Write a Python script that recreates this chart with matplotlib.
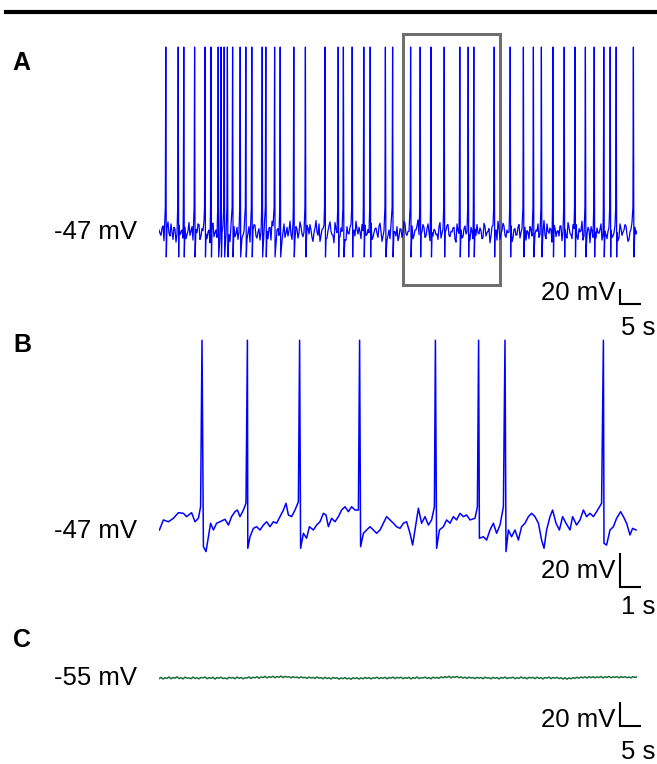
import numpy as np
import matplotlib
matplotlib.use('Agg')
import matplotlib.pyplot as plt
from matplotlib.lines import Line2D
from matplotlib.patches import Rectangle

plt.rcParams['font.family'] = ['Liberation Sans', 'DejaVu Sans']

W, H = 657, 764

# ---- panel A: 2 min recording, -47 mV holding ----
spike_times_A = [1.7, 4.8, 6.2, 8.9, 11.5, 13.0, 14.8, 15.5, 16.3, 17.1, 18.4, 20.3,
                 21.7, 23.2, 25.8, 26.7, 28.9, 30.3, 33.7, 36.6, 41.5, 44.8, 46.1, 48.3,
                 51.2, 52.8, 56.6, 58.4, 62.9, 65.3, 68.0, 71.3, 75.2, 77.3, 78.7, 83.8,
                 87.8, 91.1, 93.6, 95.6, 98.5, 101.3, 104.0, 106.6, 108.8, 111.2, 112.8,
                 114.3, 118.6]
spike_peak_A = 227.0
spike_pre_A = -10.0
spike_trough_A = -84.0
dt_A = 0.5
# samples on the whole half-second
baseline_A = [
    -44, -52, -38, -55, -41, -49, -35, -58, -43, -50, -37, -47, -56, -40, -51, -33, -46, -59, -42, -48,
    -36, -53, -45, -39, -57, -44, -50, -34, -48, -55, -41, -46, -38, -60, -43, -51, -36, -49, -54, -40,
    -47, -33, -52, -45, -58, -39, -50, -44, -37, -56, -42, -48, -35, -53, -46, -41, -59, -38, -49, -44,
    -52, -36, -47, -55, -40, -45, -51, -34, -57, -43, -48, -39, -54, -46, -37, -50, -44, -61, -41, -47,
    -35, -53, -42, -49, -56, -38, -46, -52, -33, -48, -55, -41, -44, -58, -39, -50, -36, -47, -53, -43,
    -40, -57, -45, -37, -51, -48, -34, -55, -42, -49, -38, -46, -53, -41, -59, -44, -36, -50, -47, -39,
    -54, -43, -48, -35, -52, -46, -40, -57, -44, -38, -51, -49, -36, -55, -42, -47, -33, -53, -45, -50,
    -39, -56, -43, -48, -37, -52, -46, -41, -58, -35, -49, -44, -54, -38, -47, -51, -40, -57, -43, -36,
    -50, -45, -55, -39, -48, -42, -53, -37, -46, -59, -41, -49, -34, -52, -44, -47, -38, -56, -42, -51,
    -36, -48, -54, -40, -45, -57, -43, -37, -50, -46, -55, -39, -47, -52, -35, -49, -44, -58, -41, -46,
    -53, -38, -47, -43, -56, -40, -51, -36, -48, -54, -42, -45, -59, -37, -50, -44, -39, -55, -47, -41,
    -49, -35, -52, -46, -57, -40, -44, -53, -38, -48, -55, -42, -47, -36, -51, -58, -43, -49, -40, -46,
]
# samples a quarter second later
baseline_A_mid = [
    -49, -41, -60, -45, -32, -53, -47, -40, -62, -38, -51, -44, -30, -57, -46, -52, -39, -64, -43, -35,
    -58, -42, -31, -50, -47, -63, -37, -54, -44, -29, -56, -48, -41, -52, -34, -61, -45, -39, -50, -58,
    -38, -55, -46, -30, -49, -62, -43, -36, -53, -47, -59, -33, -48, -44, -57, -40, -31, -51, -64, -42,
    -46, -60, -35, -49, -53, -31, -58, -44, -39, -56, -32, -50, -47, -62, -41, -36, -55, -48, -30, -52,
    -61, -43, -37, -57, -45, -32, -51, -63, -42, -38, -54, -46, -33, -59, -49, -40, -56, -44, -31, -50,
    -47, -36, -62, -52, -43, -30, -58, -48, -41, -55, -34, -61, -45, -39, -52, -57, -32, -46, -53, -60,
    -42, -55, -31, -50, -46, -63, -38, -52, -44, -29, -57, -47, -40, -53, -35, -60, -48, -43, -51, -58,
    -33, -49, -61, -44, -36, -54, -47, -40, -62, -45, -31, -56, -42, -50, -37, -59, -46, -33, -52, -48,
    -41, -57, -34, -53, -46, -63, -39, -50, -44, -31, -58, -45, -38, -55, -48, -36, -61, -43, -52, -40,
    -56, -42, -32, -59, -47, -39, -53, -61, -44, -35, -51, -48, -30, -57, -46, -41, -62, -37, -54, -45,
    -38, -60, -44, -52, -33, -49, -57, -42, -36, -58, -47, -31, -53, -50, -40, -63, -45, -34, -56, -48,
    -43, -59, -37, -51, -46, -32, -55, -48, -41, -60, -35, -52, -44, -38, -61, -47, -33, -54, -50, -42,
]
zoom_window = (61.0, 85.25)  # seconds of A shown in B

# ---- panel B: expanded 24 s segment ----
t_B = [0.02, 0.22, 0.47, 0.72, 0.97, 1.22, 1.38, 1.63, 1.80, 1.97, 2.08,
       2.22, 2.35, 2.47, 2.58, 2.72, 2.88, 3.05, 3.30, 3.47, 3.63, 3.80, 3.92, 4.05, 4.22, 4.35,
       4.44, 4.55, 4.72, 4.88, 5.05, 5.22, 5.38, 5.55, 5.72, 5.88, 6.05, 6.22, 6.35, 6.47, 6.63, 6.80, 6.97,
       7.08, 7.22, 7.38, 7.52, 7.72, 7.88, 8.05, 8.22, 8.35, 8.47, 8.63, 8.80, 8.97, 9.13, 9.30, 9.47,
       9.63, 9.80, 9.97,
       10.08, 10.22, 10.38, 10.55, 10.72, 10.88, 11.05, 11.22, 11.38, 11.55, 11.72, 11.88, 12.05,
       12.22, 12.38, 12.55, 12.68, 12.85, 12.97, 13.13, 13.30, 13.47, 13.63, 13.77,
       13.88, 14.02, 14.22, 14.38, 14.55, 14.72, 14.88, 15.05, 15.22, 15.38, 15.55, 15.80, 15.92,
       16.02, 16.22, 16.38, 16.55, 16.72, 16.88, 17.05, 17.22,
       17.35, 17.47, 17.63, 17.80, 17.97, 18.13, 18.30, 18.47, 18.63, 18.80, 18.97, 19.13, 19.25,
       19.38, 19.55, 19.68, 19.85, 20.02, 20.18, 20.35, 20.55, 20.68, 20.88, 21.05, 21.22, 21.38,
       21.55, 21.72, 21.88, 22.13,
       22.25, 22.38, 22.55, 22.72, 22.88, 23.08, 23.22, 23.38, 23.55, 23.68, 23.85]
v_B = [-47.0, -40.9, -42.0, -39.9, -36.5, -36.9, -38.9, -36.5, -42.0, -39.9, -32.9,
       -57.1, -60.1, -51.1, -42.9, -47.0, -42.9, -42.0, -40.5, -44.0, -38.9, -35.9, -34.9, -38.9, -34.9, -30.8,
       -58.1, -51.1, -46.0, -45.0, -47.0, -44.0, -42.0, -45.0, -42.0, -42.9, -38.9, -34.9, -30.8, -37.9, -38.9, -34.9, -29.9,
       -58.1, -49.0, -52.0, -45.0, -47.0, -44.0, -42.0, -36.9, -37.9, -45.0, -39.9, -42.0, -38.9, -34.9, -32.9, -35.9,
       -32.9, -34.9, -34.9,
       -57.1, -49.0, -47.0, -45.0, -47.0, -49.0, -47.0, -42.9, -38.9, -40.9, -42.9, -45.0, -46.0,
       -42.9, -42.0, -49.0, -56.1, -42.9, -33.8, -42.9, -38.9, -44.0, -40.9, -32.9,
       -58.1, -47.0, -45.0, -40.9, -42.9, -38.9, -40.9, -36.9, -38.9, -37.9, -40.9, -39.9, -32.9,
       -52.0, -51.1, -53.1, -47.0, -42.9, -49.0, -44.0, -32.9,
       -60.1, -47.0, -51.1, -47.0, -53.1, -45.0, -42.9, -38.9, -36.9, -38.9, -42.9, -53.1, -58.1,
       -47.0, -38.9, -34.9, -42.9, -47.0, -38.9, -42.9, -47.0, -38.9, -44.0, -40.9, -34.9, -38.9,
       -36.9, -38.9, -35.9, -30.8,
       -55.1, -56.1, -47.0, -45.0, -39.9, -35.9, -38.9, -42.9, -50.0, -46.0, -47.0]
spike_times_B = [2.15, 4.42, 7.03, 10.03, 13.82, 15.98, 17.30, 22.22]
spike_peak_B = 68.0

# ---- panel C: 2 min recording, -55 mV holding ----
dt_C = 0.5
baseline_C = [
    -55.6, -54.4, -55.9, -54.8, -55.3, -54.1, -55.7, -54.6, -55.2, -54.0, -55.5, -54.7, -55.8, -54.3, -55.1, -54.9, -55.6, -54.2, -55.4, -54.8,
    -55.7, -54.5, -55.0, -54.1, -55.6, -54.7, -55.3, -54.4, -55.9, -54.6, -55.2, -54.3, -55.5, -54.9, -55.8, -54.4, -55.1, -54.6, -55.6, -54.2,
    -55.3, -54.5, -55.7, -54.8, -55.0, -54.1, -55.4, -54.3, -54.9, -53.9, -55.2, -54.0, -54.7, -53.6, -54.9, -53.8, -54.5, -53.5, -54.8, -53.7,
    -54.4, -53.3, -54.7, -53.6, -54.2, -53.9, -54.9, -53.8, -54.6, -54.2, -55.1, -54.0, -54.8, -54.4, -55.3, -54.2, -55.0, -54.5, -55.4, -54.1,
    -55.2, -54.6, -55.7, -54.4, -55.5, -54.8, -55.9, -54.5, -55.3, -54.7, -56.0, -54.9, -55.6, -54.6, -55.8, -55.0, -56.1, -54.8, -55.5, -54.7,
    -55.9, -54.9, -55.7, -54.5, -55.4, -54.6, -55.8, -54.8, -55.2, -54.3, -55.6, -54.7, -55.3, -54.4, -55.7, -54.6, -55.1, -54.2, -55.5, -54.5,
    -55.0, -54.3, -55.6, -54.7, -55.2, -54.4, -55.8, -54.6, -55.3, -54.1, -55.5, -54.8, -55.0, -54.2, -55.4, -54.6, -55.7, -54.3, -55.1, -54.5,
    -55.3, -54.0, -54.8, -53.8, -54.6, -53.5, -54.9, -53.9, -54.4, -53.6, -54.8, -54.0, -55.1, -54.3, -55.4, -54.2, -55.0, -54.6, -55.5, -54.4,
    -55.2, -54.5, -55.6, -54.3, -55.1, -54.7, -55.7, -54.4, -55.3, -54.6, -55.8, -54.5, -55.2, -54.2, -55.5, -54.7, -55.0, -54.3, -55.6, -54.8,
    -55.4, -54.1, -55.2, -54.6, -55.7, -54.4, -55.0, -54.5, -55.5, -54.3, -55.3, -54.7, -55.8, -54.6, -55.1, -54.2, -55.6, -54.5, -55.2, -54.4,
    -55.5, -54.7, -55.9, -54.8, -56.0, -54.9, -55.7, -54.6, -55.4, -54.3, -55.2, -54.1, -54.9, -54.0, -55.0, -53.8, -54.7, -53.9, -54.8, -54.0,
    -54.6, -53.7, -54.9, -53.9, -54.5, -53.6, -54.8, -54.0, -54.4, -53.8, -54.9, -53.7, -54.6, -53.9, -54.7, -54.1, -54.9, -53.8, -54.5, -54.0,
]

TRACE_X0, TRACE_X1 = 159, 637
BAR_X = 620
FS = 18.5

fig = plt.figure(figsize=(W / 100, H / 100), dpi=100)


def make_panel(y0, y1, rate, v_ref, y_ref, k):
    # rate: px per second, k: px per mV, v_ref drawn at pixel row y_ref
    ax = fig.add_axes([TRACE_X0 / W, 1 - y1 / H, (TRACE_X1 - TRACE_X0) / W, (y1 - y0) / H])
    ax.set_xlim(0, (TRACE_X1 - TRACE_X0) / rate)
    ax.set_ylim(v_ref - (y1 - y_ref) / k, v_ref + (y_ref - y0) / k)
    ax.axis('off')
    return ax


def scale_bar(ax, rate, v_ref, y_ref, k, y_bot, mv, sec, y_mv_txt, y_s_txt, s_label):
    t0 = (BAR_X - TRACE_X0) / rate
    v0 = v_ref + (y_ref - y_bot) / k
    ax.plot([t0, t0, t0 + sec], [v0 + mv, v0, v0], color='black', lw=1.5,
            clip_on=False, solid_joinstyle='miter')
    fig.text(615 / W, 1 - y_mv_txt / H, f'{mv} mV', ha='right', va='center', fontsize=FS)
    fig.text(655 / W, 1 - y_s_txt / H, s_label, ha='right', va='center', fontsize=FS)


# top rule
fig.add_artist(Line2D([6 / W, 1.0], [1 - 11.5 / H] * 2, color='black', lw=3.0))

# ---- A ----
pA = dict(rate=4.0, v_ref=-47.0, y_ref=232, k=13.5 / 20)
axA = make_panel(20, 320, **pA)
tA = np.concatenate([np.arange(len(baseline_A)) * dt_A,
                     np.arange(len(baseline_A_mid)) * dt_A + dt_A / 2])
vA = np.concatenate([baseline_A, baseline_A_mid])
sp = np.array(spike_times_A)
keep = np.array([np.min(np.abs(sp - t)) > 0.2 for t in tA])
pts = list(zip(tA[keep], vA[keep]))
for ts in spike_times_A:
    pts += [(ts - 0.12, spike_pre_A), (ts, spike_peak_A), (ts + 0.12, spike_trough_A)]
pts.sort()
pts = np.array(pts)
axA.plot(pts[:, 0], pts[:, 1], color='#0000ff', lw=0.9)
vb0 = spike_trough_A - 28 / pA['k']
vb1 = spike_peak_A + 13 / pA['k']
axA.add_patch(Rectangle((zoom_window[0], vb0), zoom_window[1] - zoom_window[0], vb1 - vb0,
                        fill=False, edgecolor='#6e6e6e', lw=2.2, clip_on=False))
scale_bar(axA, **pA, y_bot=304, mv=20, sec=5, y_mv_txt=293, y_s_txt=328, s_label='5 s')
fig.text(12 / W, 1 - 63 / H, 'A', fontsize=18, fontweight='bold', ha='left', va='center')
fig.text(137 / W, 1 - 232 / H, '-47 mV', fontsize=FS, ha='right', va='center')

# ---- B ----
pB = dict(rate=20.0, v_ref=-47.0, y_ref=530, k=33 / 20)
axB = make_panel(325, 600, **pB)
ptsB = list(zip(t_B, v_B)) + [(t, spike_peak_B) for t in spike_times_B]
ptsB.sort()
ptsB = np.array(ptsB)
axB.plot(ptsB[:, 0], ptsB[:, 1], color='#0000ff', lw=1.1)
scale_bar(axB, **pB, y_bot=587, mv=20, sec=1, y_mv_txt=571, y_s_txt=607, s_label='1 s')
fig.text(13 / W, 1 - 345 / H, 'B', fontsize=18, fontweight='bold', ha='left', va='center')
fig.text(137 / W, 1 - 531 / H, '-47 mV', fontsize=FS, ha='right', va='center')

# ---- C ----
pC = dict(rate=4.0, v_ref=-55.0, y_ref=678, k=23 / 20)
axC = make_panel(620, 700, **pC)
tC = np.arange(len(baseline_C)) * dt_C
axC.plot(tC, baseline_C, color='#1b6e3c', lw=1.1)
scale_bar(axC, **pC, y_bot=726, mv=20, sec=5, y_mv_txt=720, y_s_txt=752, s_label='5 s')
fig.text(13 / W, 1 - 640 / H, 'C', fontsize=18, fontweight='bold', ha='left', va='center')
fig.text(137 / W, 1 - 678 / H, '-55 mV', fontsize=FS, ha='right', va='center')

fig.savefig('out.png', dpi=100)
